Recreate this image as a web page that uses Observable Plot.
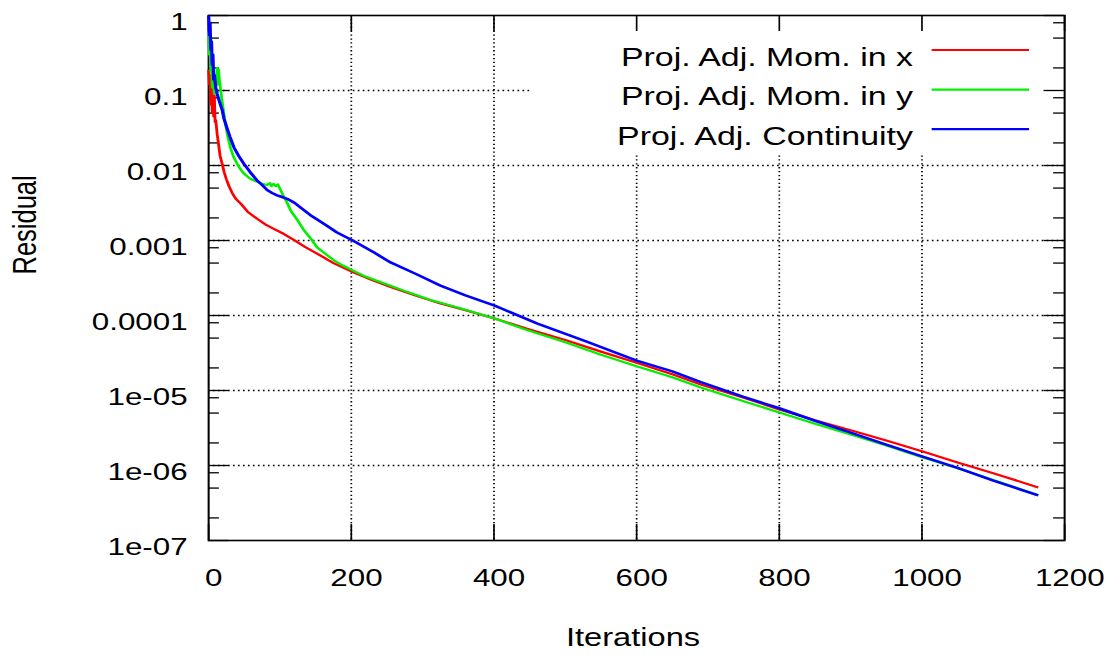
<!DOCTYPE html>
<html>
<head>
<meta charset="utf-8">
<script src="https://cdn.jsdelivr.net/npm/d3@7"></script>
<script src="https://cdn.jsdelivr.net/npm/@observablehq/plot@0.6"></script>
<style>
  html, body { margin: 0; padding: 0; background: #fff; overflow: hidden; }
  #chart { width: 1112px; height: 659px; overflow: hidden; }
  /* the plot is drawn in a narrower box and widened, giving the wide lettering of the original output */
  #chart svg { display: block; transform: scaleX(1.28); transform-origin: 0 0; }
</style>
</head>
<body>
<div id="chart"></div>
<script>
// Residual history of the projected adjoint equations
const momXIter = [0,1,2,3,4,5,6,7,8,9,10,12,14.5,16,19,22,25,28.5,33,38,45,55,68,80,92,105,120,135,152,175,202,228,255,290,325,360,401,450,500,550,600,650,690,750,800,850,900,950,1000,1050,1100,1163];
const momXRes  = [0.19,0.12,0.16,0.065,0.14,0.05,0.11,0.045,0.085,0.038,0.04,0.026,0.0174,0.0135,0.0105,0.008,0.0065,0.0053,0.0043,0.0036,0.0031,0.0024,0.00195,0.00163,0.00142,0.00123,0.00101,0.00082,0.00067,0.0005,0.00038,0.0003,0.00024,0.000185,0.000145,0.000118,9.1e-5,6.5e-5,4.7e-5,3.3e-5,2.35e-5,1.65e-5,1.2e-5,8.0e-6,5.6e-6,4.0e-6,2.95e-6,2.15e-6,1.55e-6,1.1e-6,7.9e-7,5.1e-7];

const momYIter = [0,1,2,3,4,5,6,8,10,12,13,14,15,17,19,21.5,24,27,30.8,35,40,45,49.5,56,62,68,75,82,86,88,91,94,97,101,105.6,110,115,124,134,143,152,164,176,189,202,217,232,255,279,310,349,401,442,500,550,600,650,690,750,800,850,900,950,1000,1050,1100,1163];
const momYRes  = [0.55,0.3,0.4,0.18,0.25,0.11,0.15,0.09,0.12,0.2,0.12,0.19,0.14,0.1,0.07,0.048,0.034,0.024,0.017,0.013,0.0105,0.0088,0.0078,0.0069,0.0064,0.0061,0.0057,0.0055,0.0058,0.0053,0.0057,0.0053,0.0056,0.0047,0.0038,0.0032,0.0025,0.0019,0.00135,0.00107,0.00081,0.00066,0.00054,0.00046,0.0004,0.00034,0.0003,0.00025,0.000205,0.000162,0.000128,9.1e-5,6.6e-5,4.4e-5,3.0e-5,2.1e-5,1.5e-5,1.1e-5,7.2e-6,5.1e-6,3.6e-6,2.6e-6,1.85e-6,1.29e-6,9.2e-7,6.4e-7,4.0e-7];

const contIter = [0,1,2,3,4,5,6,7,8,10,12,15,19,21.5,26,30,35.5,42,49.5,58,68,75,82,89,96,103,110,120,129,145,162,180,202,232,255,290,325,360,401,461,530,600,650,690,750,800,850,900,950,1000,1050,1100,1163];
const contRes  = [1.0,0.55,0.8,0.35,0.45,0.22,0.3,0.14,0.16,0.11,0.09,0.072,0.055,0.042,0.031,0.024,0.0174,0.0135,0.0105,0.0082,0.0063,0.0055,0.0047,0.0043,0.004,0.0038,0.0036,0.0032,0.00275,0.0021,0.00166,0.00128,0.001,0.00069,0.00051,0.00036,0.00025,0.000185,0.000135,7.8e-5,4.5e-5,2.5e-5,1.8e-5,1.29e-5,8.2e-6,5.8e-6,3.95e-6,2.75e-6,1.9e-6,1.32e-6,9.3e-7,6.3e-7,4.0e-7];

const seriesNames  = ["Proj. Adj. Mom. in x", "Proj. Adj. Mom. in y", "Proj. Adj. Continuity"];
const seriesColors = ["#ff0000", "#00f000", "#0000ff"];

const xTicks = [0, 200, 400, 600, 800, 1000, 1200];
const yTicks = [1, 0.1, 0.01, 0.001, 0.0001, 1e-5, 1e-6, 1e-7];
const yTickLabels = ["1", "0.1", "0.01", "0.001", "0.0001", "1e-05", "1e-06", "1e-07"];
const yMinorTicks = [0.8, 0.5, 0.2, 0.08, 0.05, 0.02, 0.008, 0.005, 0.002, 8e-4, 5e-4, 2e-4, 8e-5, 5e-5, 2e-5, 8e-6, 5e-6, 2e-6, 8e-7, 5e-7, 2e-7];
const xLabel = "Iterations";
const yLabel = "Residual";

// table for the line marks
const seriesData = [
  {iter: momXIter, res: momXRes},
  {iter: momYIter, res: momYRes},
  {iter: contIter, res: contRes}
].map((s, k) => s.iter.map((it, i) => ({name: seriesNames[k], iter: it, res: s.res[i]})));

// layout
const W = 869, H = 659;
const mL = 162.5, mR = 37.75, mT = 15, mB = 119;
const innerW = W - mL - mR, innerH = H - mT - mB;
const majorLen = 16, minorLen = 8.5;
const font = "'Liberation Sans', Arial, Helvetica, sans-serif";
const tickFs = 24.5, labelFs = 25.5, keyFs = 26.5;

const gridStyle = {stroke: "#000", strokeWidth: 1.35, strokeDasharray: "1.3,2.6"};
const tickStyle = {stroke: "#000", strokeWidth: 1.3};

// white panel behind the key, hiding the grid there
function keyPanel(index, scales, values, dims) {
  const right = dims.width - dims.marginRight;
  const g = d3.create("svg:g");
  g.append("rect")
    .attr("x", right - 417).attr("y", dims.marginTop)
    .attr("width", 417).attr("height", 138)
    .attr("fill", "#fff");
  return g.node();
}

// key: right-aligned names followed by a short line sample
function keyEntries(index, scales, values, dims) {
  const right = dims.width - dims.marginRight;
  const top = dims.marginTop;
  const g = d3.create("svg:g");
  seriesNames.forEach((name, i) => {
    g.append("text")
      .attr("x", right - 118).attr("y", top + 51 + i * 39.3)
      .attr("text-anchor", "end")
      .attr("font-family", font).attr("font-size", keyFs)
      .attr("fill", "#000")
      .text(name);
    const ly = top + 35 + i * 39.6;
    g.append("line")
      .attr("x1", right - 103.4).attr("x2", right - 27.3)
      .attr("y1", ly).attr("y2", ly)
      .attr("stroke", seriesColors[i]).attr("stroke-width", 2.2);
  });
  return g.node();
}

const chart = Plot.plot({
  width: W,
  height: H,
  marginLeft: mL,
  marginRight: mR,
  marginTop: mT,
  marginBottom: mB,
  style: {fontFamily: font, fontSize: labelFs + "px", color: "#000", background: "#fff"},
  x: {domain: [0, 1200], axis: null},
  y: {type: "log", domain: [1e-7, 1], axis: null},
  marks: [
    // dotted grid
    Plot.ruleX(xTicks.filter(d => d > 0 && d < 1200), {x: d => d, ...gridStyle}),
    Plot.ruleY(yTicks.filter(d => d < 1 && d > 1e-7), {y: d => d, ...gridStyle}),
    keyPanel,
    // inward ticks on all four sides
    Plot.ruleX(xTicks, {x: d => d, insetTop: innerH - majorLen, ...tickStyle}),
    Plot.ruleX(xTicks, {x: d => d, insetBottom: innerH - majorLen, ...tickStyle}),
    Plot.ruleY(yTicks, {y: d => d, insetRight: innerW - majorLen, ...tickStyle}),
    Plot.ruleY(yTicks, {y: d => d, insetLeft: innerW - majorLen, ...tickStyle}),
    Plot.ruleY(yMinorTicks, {y: d => d, insetRight: innerW - minorLen, ...tickStyle}),
    Plot.ruleY(yMinorTicks, {y: d => d, insetLeft: innerW - minorLen, ...tickStyle}),
    Plot.frame({stroke: "#000", strokeWidth: 1.6}),
    // residual curves
    ...seriesData.map((rows, k) => Plot.line(rows, {
      x: "iter", y: "res",
      stroke: seriesColors[k], strokeWidth: k === 2 ? 2.5 : 2.2,
      strokeLinejoin: "round", strokeLinecap: "butt"
    })),
    // tick labels
    Plot.text(xTicks, {x: d => d, text: d => String(d), frameAnchor: "bottom", dy: 45.5, dx: 4, fontSize: tickFs, fill: "#000"}),
    Plot.text(yTicks, {y: d => d, text: (d, i) => yTickLabels[i], frameAnchor: "left", textAnchor: "end", dx: -16.4, dy: 6.5, fontSize: tickFs, fill: "#000"}),
    // axis titles
    Plot.text([xLabel], {text: d => d, frameAnchor: "bottom", dy: 105, dx: -2.8, fontSize: labelFs, fill: "#000"}),
    Plot.text([yLabel], {text: d => d, frameAnchor: "left", dx: -143.4, dy: -3.5, rotate: -90, fontSize: labelFs, fill: "#000"}),
    keyEntries
  ]
});

document.getElementById("chart").appendChild(chart);
</script>
</body>
</html>
